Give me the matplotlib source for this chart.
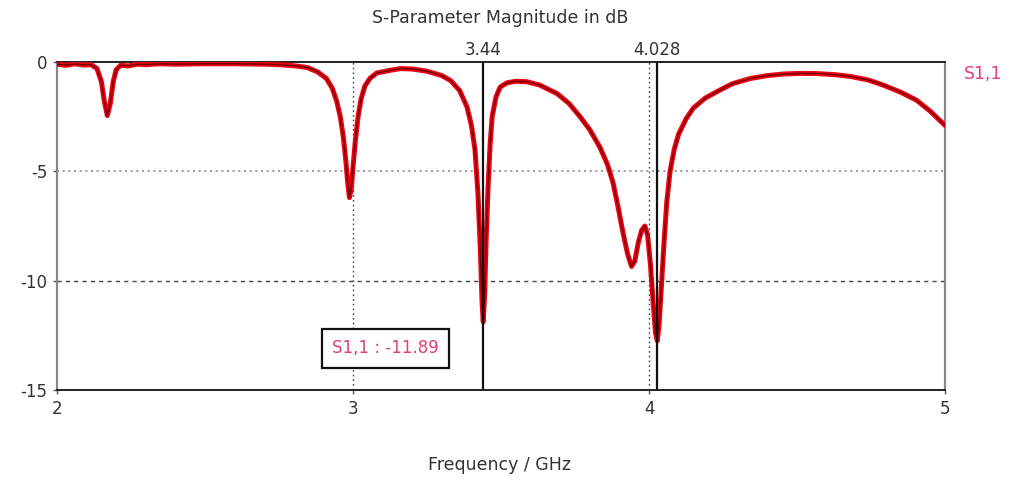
import matplotlib
matplotlib.use("Agg")
import matplotlib.pyplot as plt

# S1,1 magnitude samples (GHz, dB)
freq_ghz = [
    2.000, 2.030, 2.060, 2.090, 2.115, 2.135, 2.150, 2.160, 2.170, 2.180,
    2.190, 2.200, 2.215, 2.240, 2.270, 2.300, 2.350, 2.400, 2.500, 2.600,
    2.700, 2.760, 2.800, 2.845, 2.880, 2.910, 2.930, 2.945, 2.957, 2.967,
    2.975, 2.982, 2.988, 2.994, 3.000, 3.008, 3.017, 3.027, 3.040, 3.057,
    3.080, 3.125, 3.160, 3.200, 3.250, 3.300, 3.330, 3.360, 3.385, 3.400,
    3.412, 3.422, 3.430, 3.436, 3.440, 3.445, 3.450, 3.456, 3.463, 3.470,
    3.483, 3.497, 3.520, 3.550, 3.587, 3.630, 3.690, 3.730, 3.767, 3.800,
    3.834, 3.860, 3.878, 3.895, 3.912, 3.928, 3.941, 3.952, 3.963, 3.975,
    3.986, 3.995, 4.005, 4.015, 4.022, 4.028, 4.034, 4.042, 4.050, 4.060,
    4.071, 4.085, 4.100, 4.125, 4.150, 4.190, 4.230, 4.280, 4.340, 4.400,
    4.453, 4.510, 4.567, 4.630, 4.680, 4.740, 4.790, 4.850, 4.904, 4.950,
    5.000,
]
s11_db = [
    -0.10, -0.15, -0.08, -0.14, -0.12, -0.30, -0.90, -1.80, -2.45, -1.90,
    -0.90, -0.35, -0.15, -0.18, -0.10, -0.12, -0.08, -0.10, -0.08, -0.08,
    -0.10, -0.13, -0.17, -0.25, -0.45, -0.75, -1.20, -1.80, -2.50, -3.40,
    -4.40, -5.50, -6.20, -5.80, -4.80, -3.60, -2.50, -1.70, -1.10, -0.75,
    -0.50, -0.38, -0.30, -0.32, -0.42, -0.62, -0.85, -1.30, -2.05, -2.90,
    -4.00, -6.00, -8.50, -11.00, -11.89, -10.50, -8.00, -5.80, -3.80, -2.50,
    -1.60, -1.15, -0.95, -0.88, -0.90, -1.05, -1.45, -1.90, -2.50, -3.10,
    -3.90, -4.70, -5.50, -6.60, -7.80, -8.80, -9.35, -9.10, -8.30, -7.70,
    -7.50, -7.90, -9.30, -11.20, -12.40, -12.75, -12.00, -10.20, -8.40, -6.40,
    -5.00, -4.00, -3.30, -2.60, -2.10, -1.65, -1.35, -1.00, -0.76, -0.62,
    -0.55, -0.52, -0.53, -0.58, -0.66, -0.82, -1.05, -1.38, -1.75, -2.25,
    -2.90,
]

x_ticks = [2, 3, 4, 5]
y_ticks = [0, -5, -10, -15]
marker_freqs = [3.44, 4.028]
marker_labels = ["3.44", "4.028"]
marker_readout = "S1,1 : -11.89"
series_name = "S1,1"

text_color = "#333333"
trace_color = "#f00010"
label_pink = "#e0407a"

fig = plt.figure(figsize=(10.14, 4.8), dpi=100)
ax = fig.add_axes([0.0562, 0.1875, 0.8758, 0.6833])

ax.set_xlim(2, 5)
ax.set_ylim(-15, 0)

# grid: vertical at 3 and 4, horizontal at -5 and -10
for gx in [3, 4]:
    ax.axvline(gx, color="#444444", lw=1.0, ls=(0, (1.2, 2.2)), zorder=1)
ax.axhline(-5, color="#888888", lw=1.2, ls=(0, (1.2, 2.2)), zorder=1)
ax.axhline(-10, color="#444444", lw=1.0, ls=(0, (3, 3)), zorder=1)

# trace with a red outer stroke and a dark core
ax.plot(freq_ghz, s11_db, color=trace_color, lw=3.6, solid_capstyle="round",
        solid_joinstyle="round", zorder=3)
ax.plot(freq_ghz, s11_db, color="#5a0000", lw=1.1, alpha=0.8, zorder=4)

# markers
for mf, ml in zip(marker_freqs, marker_labels):
    ax.axvline(mf, color="#111111", lw=1.6, zorder=5)
    ax.text(mf, 0.15, ml, ha="center", va="bottom", fontsize=12,
            color=text_color)

ax.text(3.11, -13.1, marker_readout, ha="center", va="center", fontsize=12,
        color=label_pink, zorder=6,
        bbox=dict(boxstyle="square,pad=0.62", facecolor="white",
                  edgecolor="#111111", linewidth=1.6))

ax.set_xticks(x_ticks)
ax.set_yticks(y_ticks)
ax.set_xticklabels([str(t) for t in x_ticks])
ax.set_yticklabels([str(t) for t in y_ticks])
ax.tick_params(axis="both", length=3, width=1, color="#555555",
               labelsize=12, labelcolor=text_color, pad=4)

for side in ["left", "right"]:
    ax.spines[side].set_color("#888888")
    ax.spines[side].set_linewidth(1.6)
for side in ["top", "bottom"]:
    ax.spines[side].set_color("#222222")
    ax.spines[side].set_linewidth(1.4)

fig.text(0.493, 0.962, "S-Parameter Magnitude in dB", ha="center",
         va="center", fontsize=12.5, color=text_color)
fig.text(0.493, 0.031, "Frequency / GHz", ha="center", va="center",
         fontsize=12.5, color=text_color)
fig.text(0.951, 0.845, series_name, ha="left", va="center", fontsize=12.5,
         color=label_pink)

fig.savefig("out.png", dpi=100, facecolor="white")
